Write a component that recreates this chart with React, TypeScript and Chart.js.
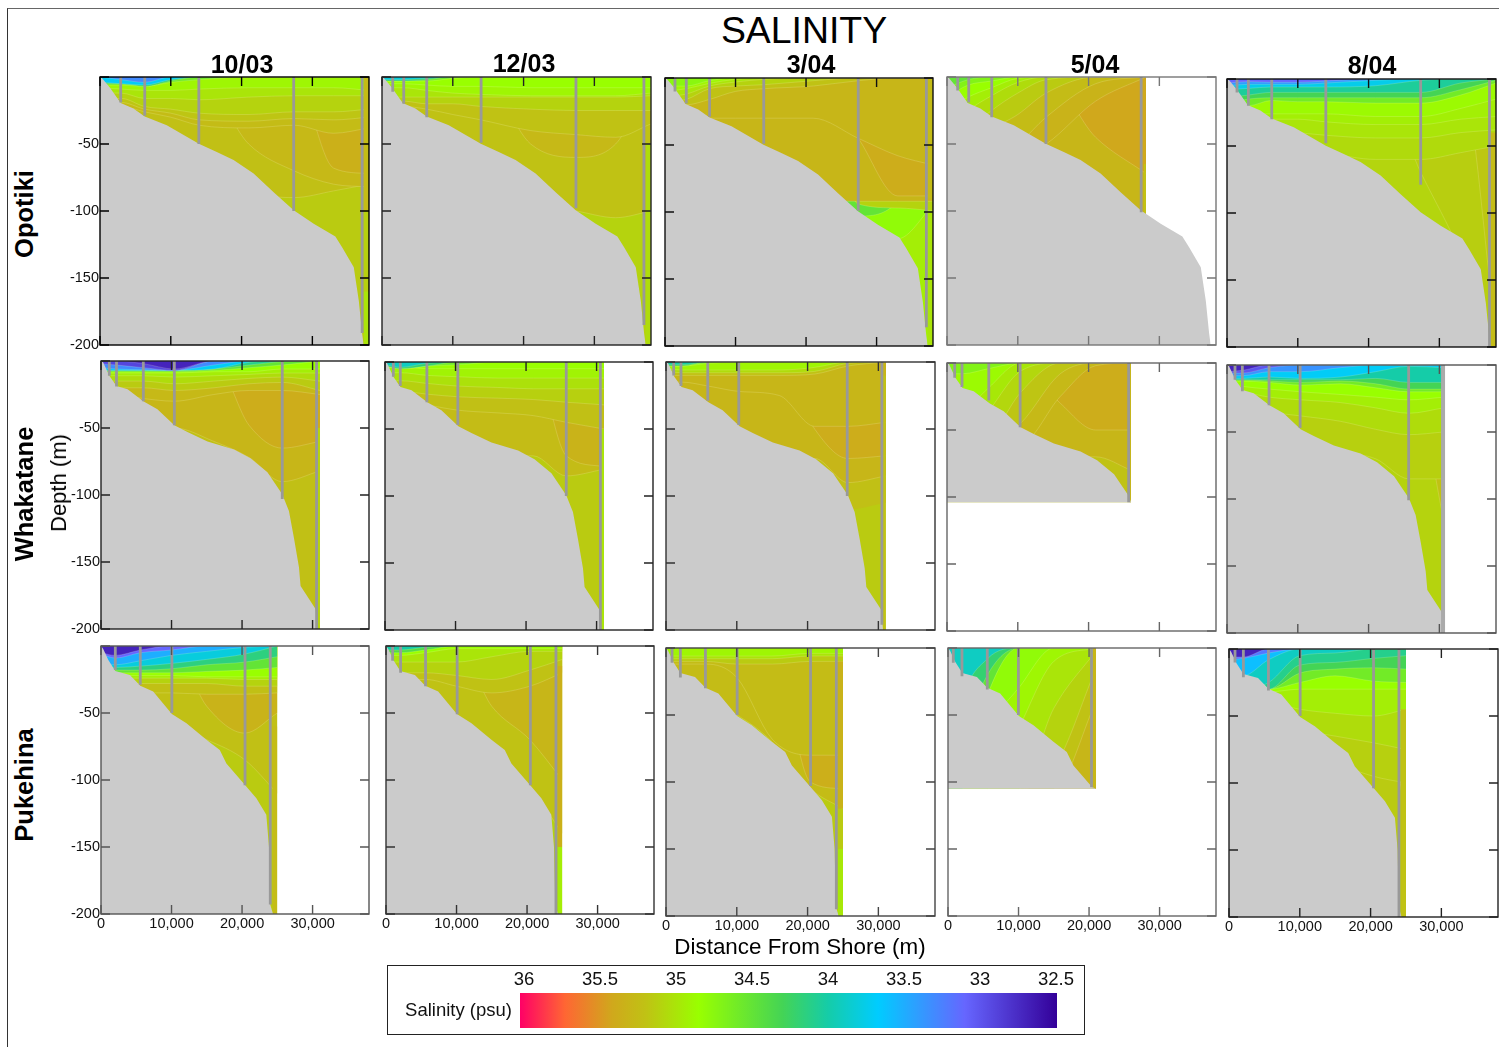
import React, { useEffect, useRef } from 'react';
import { Chart, registerables } from 'chart.js';

Chart.register(...registerables);
Chart.defaults.font.family = '"Liberation Sans", Arial, sans-serif';
Chart.defaults.color = '#111';

// ---------- categories and tick labels ----------
const transects = ['Opotiki', 'Whakatane', 'Pukehina'];
const dates = ['10/03', '12/03', '3/04', '5/04', '8/04'];
const distanceTicks = [0, 10000, 20000, 30000];
const depthTicks = [0, -50, -100, -150, -200];
const legendTicks = [36, 35.5, 35, 34.5, 34, 33.5, 33, 32.5];

// ---------- colour scale of the legend: [salinity, colour] ----------
const salinityStops: [number, string][] = [
  [36.03, '#ff0066'], [35.73, '#ff6633'], [35.42, '#d0a81c'], [35.2, '#c0c214'], [34.85, '#99ff00'],
  [34.3, '#44d455'], [34.0, '#15cca8'], [33.67, '#00ccff'], [33.1, '#6666ff'], [32.49, '#330099'],
];

// ---------- sea floor profiles: [distance, depth] ----------
const floorOpotiki = [[0, 0], [300, 1], [1415, 8], [2925, 19.4], [4717, 23.6], [6320, 29.4], [9434, 36], [13960, 49.8], [16500, 56], [18870, 62], [21700, 72], [24530, 86], [27360, 99.5], [30190, 109.5], [33250, 119], [34200, 127], [35850, 142], [36560, 167], [37030, 191.5], [37250, 200]];
const floorWhakatane = [[0, 0], [300, 1], [1180, 11], [2200, 18.7], [3770, 21], [6000, 30], [8000, 36], [10400, 48], [12260, 53], [15100, 60], [18870, 66], [21200, 72.6], [23600, 83], [25700, 99.5], [26650, 112], [27360, 132], [28070, 154], [28300, 168], [30425, 185], [30660, 200]];
const floorPukehina = [[0, 0], [300, 2], [1040, 10.4], [2030, 18.7], [4100, 21.6], [5570, 29.6], [7400, 34], [10050, 50.7], [12120, 57.7], [14950, 70], [16840, 77.6], [17780, 87.6], [20420, 103.7], [22030, 113.7], [23440, 126], [23820, 150], [24000, 193], [24390, 200]];
const floorWhakataneShort = [[0, 0], [300, 1], [1180, 11], [2200, 18.7], [3770, 21], [6000, 30], [8000, 36], [10400, 48], [12260, 53], [15100, 60], [18870, 66], [21200, 72.6], [23600, 83], [25700, 99.5], [26000, 104]];
const floorPukehinaShort = [[0, 0], [300, 2], [1040, 10.4], [2030, 18.7], [4100, 21.6], [5570, 29.6], [7400, 34], [10050, 50.7], [12120, 57.7], [14950, 70], [16840, 77.6], [17780, 87.6], [20420, 103.7], [21000, 105]];

// ---------- distances at which the isohaline depths were read ----------
const xsOpotiki = [0, 3000, 6300, 10000, 14000, 21000, 27400, 33000, 38000];
const xsOpotikiShort = [0, 3000, 6300, 10000, 14000, 21000, 28100];
const xsWhakatane = [0, 2200, 6000, 10400, 16000, 21000, 25700, 31060];
const xsWhakataneShort = [0, 2200, 6000, 10400, 16000, 21000, 26000];
const xsWhakataneAug = [0, 2200, 6000, 10400, 16000, 21000, 25700, 30600];
const xsPukehina = [0, 2000, 5600, 10000, 15000, 20400, 25000];
const xsPukehinaShort = [0, 2000, 5600, 10000, 15000, 21000];

// ---------- isohalines: [salinity, depth at each distance], painted deep to shallow ----------
const iso1003O = [[35.15, 200, 200, 200, 200, 200, 200, 200, 200, 200], [35.22, 40, 40, 50, 55, 62, 85, 90, 85, 80], [35.28, 0, 0, 0, 0, 0, 50, 70, 80, 82], [35.35, 0, 0, 0, 0, 0, 0, 0, 68, 72], [35.25, 22, 22, 26, 30, 36, 38, 36, 42, 38], [35.18, 19, 19, 24, 27, 32, 33, 31, 32, 30], [35.1, 16, 16, 22, 24, 27, 28, 26, 26, 24], [35.0, 12, 12, 16, 16, 17, 15, 14, 14, 14], [34.9, 8, 9, 10, 10, 9, 8, 8, 8, 10], [34.6, 6, 6, 7, 4, 2, 0, 0, 0, 0], [34.2, 5, 5, 7, 3, 0, 0, 0, 0, 0], [33.7, 4, 5, 6, 2, 0, 0, 0, 0, 0], [33.3, 0, 2, 4, 0, 0, 0, 0, 0, 0]];
const iso1203O = [[35.1, 200, 200, 200, 200, 200, 200, 200, 200, 200], [35.2, 50, 50, 60, 75, 90, 95, 100, 105, 100], [35.28, 0, 0, 0, 0, 0, 50, 60, 50, 0], [35.2, 22, 22, 24, 28, 32, 40, 43, 45, 35], [35.1, 18, 18, 20, 20, 22, 24, 25, 25, 25], [35.0, 15, 15, 15, 15, 15, 15, 15, 15, 14], [34.9, 8, 8, 10, 12, 13, 14, 14, 14, 12], [34.85, 5, 5, 6, 7, 7, 8, 8, 8, 8], [34.6, 3, 3, 3, 1, 0, 0, 0, 0, 0], [34.2, 3, 3, 2, 0, 0, 0, 0, 0, 0], [33.8, 2, 2, 1, 0, 0, 0, 0, 0, 0]];
const iso0304O = [[34.95, 200, 200, 200, 200, 200, 200, 200, 200, 200], [34.8, 0, 0, 0, 0, 0, 100, 115, 120, 95], [34.5, 0, 0, 0, 0, 0, 100, 103, 92, 0], [35.1, 0, 0, 0, 0, 0, 0, 94, 97, 99], [35.3, 92, 92, 92, 92, 92, 92, 92, 92, 92], [35.38, 0, 0, 0, 0, 0, 0, 45, 88, 88], [35.3, 30, 30, 30, 30, 30, 30, 45, 58, 65], [35.2, 20, 20, 16, 10, 8, 6, 2, 0, 0], [35.1, 18, 16, 8, 6, 5, 2, 0, 0, 0], [35.0, 14, 12, 6, 3, 1, 0, 0, 0, 0], [34.9, 10, 8, 4, 1, 0, 0, 0, 0, 0], [34.75, 6, 6, 2, 0, 0, 0, 0, 0, 0]];
const iso0504O = [[35.3, 200, 200, 200, 200, 200, 200, 200], [35.42, 0, 0, 0, 0, 0, 45, 72], [35.33, 60, 60, 60, 60, 50, 18, 0], [35.25, 60, 60, 60, 50, 30, 5, 0], [35.15, 60, 60, 40, 28, 12, 0, 0], [35.05, 60, 40, 25, 12, 2, 0, 0], [34.95, 40, 25, 14, 4, 0, 0, 0], [34.85, 25, 15, 8, 1, 0, 0, 0], [34.7, 15, 6, 3, 0, 0, 0, 0], [34.5, 8, 2, 0, 0, 0, 0, 0]];
const iso0804O = [[35.09, 200, 200, 200, 200, 200, 200, 200, 200, 200], [35.13, 0, 0, 0, 0, 0, 0, 70, 130, 200], [35.17, 0, 0, 0, 0, 0, 0, 0, 0, 190], [35.06, 50, 50, 50, 52, 55, 60, 60, 55, 50], [35.0, 38, 38, 38, 40, 42, 44, 44, 40, 38], [34.94, 30, 30, 30, 30, 32, 34, 34, 30, 28], [34.88, 24, 26, 26, 26, 26, 28, 28, 22, 15], [34.6, 20, 20, 16, 17, 17, 18, 18, 12, 3], [34.3, 18, 15, 14, 14, 14, 14, 14, 8, 1], [34.05, 14, 12, 10, 10, 10, 10, 10, 3, 0], [33.75, 8, 7, 6, 6, 6, 5, 1, 0, 0], [33.4, 5, 4, 4, 4, 3, 1, 0, 0, 0], [33.1, 3, 2, 2.5, 2.5, 1.5, 0, 0, 0, 0]];

const iso1003W = [[35.22, 200, 200, 200, 200, 200, 200, 200, 200], [35.3, 50, 50, 50, 50, 60, 72, 90, 82], [35.38, 0, 0, 0, 0, 0, 48, 65, 60], [35.28, 25, 25, 28, 30, 25, 22, 22, 25], [35.15, 20, 20, 20, 22, 20, 17, 16, 22], [35.05, 15, 15, 15, 17, 15, 13, 12, 15], [34.95, 11, 11, 11, 12, 11, 10, 9, 9], [34.85, 9, 9, 9, 9, 8, 8, 6, 6], [34.5, 8, 8, 8, 8, 7, 5, 3, 0], [34.1, 7, 7, 7, 7, 6, 3, 0.5, 0], [33.7, 7, 7, 7, 7, 6, 1, 0, 0], [33.3, 5, 6, 6.5, 7, 3, 0, 0, 0], [32.9, 2, 3, 5, 7, 0, 0, 0, 0], [32.7, 0, 0, 2, 6, 0, 0, 0, 0]];
const iso1203W = [[35.15, 200, 200, 200, 200, 200, 200, 200, 200], [35.25, 40, 40, 45, 55, 70, 70, 85, 80], [35.33, 0, 0, 0, 0, 0, 0, 70, 78], [35.22, 28, 28, 32, 36, 38, 40, 45, 50], [35.12, 22, 22, 24, 26, 27, 28, 30, 32], [35.02, 14, 14, 16, 18, 19, 20, 20, 20], [34.92, 8, 8, 10, 11, 12, 12, 12, 12], [34.85, 4, 4, 5, 5, 5, 5, 5, 5], [34.6, 3, 5, 3, 2, 0, 0, 0, 0], [34.2, 3, 5, 3, 0, 0, 0, 0, 0], [33.9, 2, 4, 1, 0, 0, 0, 0, 0]];
const iso0304W = [[35.15, 200, 200, 200, 200, 200, 200, 200, 200], [35.22, 100, 100, 100, 100, 100, 100, 110, 105], [35.3, 40, 40, 50, 70, 72, 72, 90, 85], [35.38, 0, 0, 0, 0, 0, 50, 72, 70], [35.3, 15, 15, 18, 22, 25, 48, 48, 45], [35.2, 10, 10, 10, 10, 10, 9, 3, 0], [35.05, 7, 8, 8, 8, 8, 7, 1, 0], [34.9, 5, 6, 6, 6, 6, 4, 0, 0], [34.7, 3, 3, 1, 0, 0, 0, 0, 0], [34.3, 3, 3, 0, 0, 0, 0, 0, 0], [34.0, 2, 2, 0, 0, 0, 0, 0, 0]];
const iso0504W = [[35.2, 104, 104, 104, 104, 104, 104, 104], [35.3, 65, 65, 65, 65, 70, 70, 80], [35.38, 0, 0, 0, 0, 30, 50, 50], [35.28, 60, 60, 60, 60, 25, 2, 0], [35.18, 60, 60, 60, 45, 8, 0, 0], [35.08, 60, 60, 55, 22, 0, 0, 0], [34.98, 60, 60, 35, 6, 0, 0, 0], [34.88, 60, 40, 18, 0, 0, 0, 0], [34.7, 8, 8, 4, 0, 0, 0, 0]];
const iso0804W = [[35.1, 200, 200, 200, 200, 200, 200, 200, 200], [35.2, 0, 0, 0, 0, 0, 0, 0, 115], [35.12, 55, 55, 55, 60, 65, 70, 85, 85], [35.05, 30, 30, 35, 38, 42, 48, 52, 50], [34.95, 18, 20, 24, 26, 28, 32, 36, 32], [34.85, 14, 16, 18, 20, 22, 24, 26, 24], [34.6, 12, 12, 13, 15, 14, 17, 20, 20], [34.3, 11, 11, 12, 13, 12, 14, 18, 18], [34.0, 11, 11, 11, 11, 11, 10, 13, 13], [33.7, 10, 10, 9, 10, 9, 5, 1, 2], [33.35, 8, 8, 5, 5, 2, 0, 0, 0], [33.0, 6, 6, 2, 0, 0, 0, 0, 0], [32.7, 5, 4, 0, 0, 0, 0, 0, 0]];

const iso1003P = [[35.15, 200, 200, 200, 200, 200, 200, 200], [35.22, 60, 60, 60, 60, 70, 85, 110], [35.33, 0, 0, 0, 0, 45, 65, 50], [35.22, 35, 35, 35, 35, 36, 36, 35], [35.1, 28, 28, 28, 28, 28, 30, 30], [34.95, 24, 24, 24, 24, 24, 25, 25], [34.85, 22, 22, 22, 22, 23, 23, 23], [34.5, 20, 20, 20, 20, 19, 18, 16], [34.15, 18, 18, 18, 17, 14, 12, 8], [33.8, 16, 16, 15, 13, 10, 6, 0], [33.5, 14, 14, 11, 7, 4, 1, 0], [33.1, 6, 9, 5, 3, 0, 0, 0], [32.7, 5, 7, 3, 0, 0, 0, 0]];
const iso1203P = [[35.1, 200, 200, 200, 200, 200, 200, 200], [35.2, 70, 70, 70, 70, 80, 105, 140], [35.3, 0, 0, 0, 0, 45, 70, 100], [35.2, 25, 25, 25, 30, 35, 30, 20], [35.1, 20, 20, 20, 22, 25, 18, 10], [35.0, 12, 12, 12, 12, 8, 4, 4], [34.85, 7, 7, 5, 2, 2, 2, 2], [34.4, 5, 5, 3, 0, 0, 0, 0], [34.0, 3, 3, 1, 0, 0, 0, 0]];
const iso0304P = [[35.15, 200, 200, 200, 200, 200, 200, 200], [35.25, 30, 30, 40, 50, 70, 105, 120], [35.36, 0, 0, 0, 0, 0, 100, 105], [35.25, 12, 12, 12, 22, 68, 80, 80], [35.15, 10, 10, 10, 12, 12, 10, 10], [35.0, 8, 8, 8, 8, 8, 6, 6], [34.9, 6, 6, 6, 6, 6, 4, 4]];
const iso0504P = [[35.3, 105, 105, 105, 105, 105, 105], [35.2, 105, 105, 105, 105, 105, 40], [35.1, 105, 105, 105, 105, 90, 15], [35.0, 105, 105, 105, 105, 45, 2], [34.9, 105, 105, 105, 60, 10, 0], [34.8, 105, 105, 60, 30, 0, 0], [34.5, 105, 105, 35, 0, 0, 0], [34.2, 105, 70, 20, 0, 0, 0], [33.9, 100, 40, 8, 0, 0, 0]];
const iso0804P = [[35.15, 200, 200, 200, 200, 200, 200, 200], [35.2, 0, 0, 0, 0, 0, 0, 125], [35.12, 70, 70, 70, 75, 85, 95, 100], [35.05, 50, 50, 50, 60, 65, 70, 75], [34.95, 40, 40, 40, 45, 48, 50, 45], [34.85, 32, 32, 32, 30, 30, 30, 30], [34.6, 30, 30, 30, 25, 20, 24, 25], [34.3, 30, 30, 30, 18, 15, 14, 15], [34.1, 30, 30, 30, 12, 10, 7, 5], [33.9, 30, 30, 25, 5, 3, 0, 0], [33.6, 20, 20, 8, 0, 0, 0, 0], [33.2, 8, 7, 3, 0, 0, 0, 0], [32.7, 6, 6, 0, 0, 0, 0, 0]];

// ---------- outermost columns: [from, to, salinity, top depth, bottom depth] ----------
const edge1003O = [[37250, 38000, 35.25, 0, 100], [37250, 38000, 35.12, 100, 160], [37250, 38000, 35.0, 160, 200]];
const edge1203O = [[37250, 38000, 35.05, 50, 200]];
const edge0304O = [[37250, 38000, 35.25, 0, 90], [37250, 38000, 35.0, 100, 200]];
const edge0504O = [[27800, 28100, 35.2, 65, 104]];
const edge0804O = [[37250, 38000, 35.25, 40, 200]];
const edge1003W = [[30660, 31060, 35.1, 50, 200]];
const edge1203W = [[30660, 31060, 35.0, 50, 200]];
const edge0304W = [[30660, 31060, 35.2, 10, 200]];
const edge0504W = [[25800, 26000, 35.3, 0, 104]];
const edge0804W: number[][] = [];
const edge1003P = [[24300, 25000, 35.25, 60, 200]];
const edge1203P = [[24300, 25000, 35.35, 15, 150], [24300, 25000, 34.95, 150, 200]];
const edge0304P = [[24300, 25000, 35.33, 10, 120], [24300, 25000, 35.15, 120, 150], [24300, 25000, 34.98, 150, 200]];
const edge0504P = [[20500, 21000, 35.3, 0, 105]];
const edge0804P = [[24300, 25000, 35.2, 45, 200]];

// ---------- CTD casts ----------
const cast1003OX = [2925, 6320, 13960, 27360, 37030];
const cast1003OD = [19, 29, 50, 100, 191];
const cast1203OX = [1514, 3070, 6320, 14000, 27400, 37000];
const cast1203OD = [11, 20, 30, 49, 98, 185];
const cast0304OX = [1415, 3020, 6320, 14000, 27400, 37060];
const cast0304OD = [10, 19, 29, 49, 99, 186];
const cast0504OX = [1510, 3066, 6320, 13980, 27430];
const cast0504OD = [10, 19, 30, 50, 101];
const cast0804OX = [1415, 3020, 6320, 13960, 27360, 37080];
const cast0804OD = [10, 20, 30, 48, 79, 200];
const cast1003WX = [1180, 2200, 6000, 10400, 25700, 30570];
const cast1003WD = [11, 19, 30, 48, 103, 200];
const cast1203WX = [1180, 2170, 5940, 10330, 25700, 30540];
const cast1203WD = [11, 18, 30, 47, 100, 200];
const cast0304WX = [1085, 2120, 5900, 10280, 25600, 30500];
const cast0304WD = [10, 18, 29, 47, 100, 196];
const cast0504WX = [1085, 2120, 5900, 10330, 25660];
const cast0504WD = [11, 18, 28, 48, 104];
const cast0804WX = [1130, 2170, 5940, 10330, 25660, 30520];
const cast0804WD = [11, 19.5, 30, 47, 101, 200];
const cast1003PX = [2030, 5570, 10050, 20420, 24000];
const cast1003PD = [18, 29, 50, 104, 193];
const cast1203PX = [940, 2070, 5610, 10090, 20470, 24100];
const cast1203PD = [11, 20, 30, 51, 104, 200];
const cast0304PX = [850, 2030, 5570, 10050, 20420, 24060];
const cast0304PD = [11, 22, 30, 50, 103, 195];
const cast0504PX = [750, 1980, 5570, 9980, 20350];
const cast0504PD = [11, 21, 31, 50, 104];
const cast0804PX = [850, 2030, 5570, 10050, 20420, 24010];
const cast0804PD = [10, 21, 31, 50, 104, 200];

// panel contents, row by row
const panelData = [
  { xs: xsOpotiki, iso: iso1003O, edge: edge1003O, floor: floorOpotiki, floorEnd: 200, cx: cast1003OX, cd: cast1003OD },
  { xs: xsOpotiki, iso: iso1203O, edge: edge1203O, floor: floorOpotiki, floorEnd: 200, cx: cast1203OX, cd: cast1203OD },
  { xs: xsOpotiki, iso: iso0304O, edge: edge0304O, floor: floorOpotiki, floorEnd: 200, cx: cast0304OX, cd: cast0304OD },
  { xs: xsOpotikiShort, iso: iso0504O, edge: edge0504O, floor: floorOpotiki, floorEnd: 200, cx: cast0504OX, cd: cast0504OD },
  { xs: xsOpotiki, iso: iso0804O, edge: edge0804O, floor: floorOpotiki, floorEnd: 200, cx: cast0804OX, cd: cast0804OD },
  { xs: xsWhakatane, iso: iso1003W, edge: edge1003W, floor: floorWhakatane, floorEnd: 200, cx: cast1003WX, cd: cast1003WD },
  { xs: xsWhakatane, iso: iso1203W, edge: edge1203W, floor: floorWhakatane, floorEnd: 200, cx: cast1203WX, cd: cast1203WD },
  { xs: xsWhakatane, iso: iso0304W, edge: edge0304W, floor: floorWhakatane, floorEnd: 200, cx: cast0304WX, cd: cast0304WD },
  { xs: xsWhakataneShort, iso: iso0504W, edge: edge0504W, floor: floorWhakataneShort, floorEnd: 104, cx: cast0504WX, cd: cast0504WD },
  { xs: xsWhakataneAug, iso: iso0804W, edge: edge0804W, floor: floorWhakatane, floorEnd: 200, cx: cast0804WX, cd: cast0804WD },
  { xs: xsPukehina, iso: iso1003P, edge: edge1003P, floor: floorPukehina, floorEnd: 200, cx: cast1003PX, cd: cast1003PD },
  { xs: xsPukehina, iso: iso1203P, edge: edge1203P, floor: floorPukehina, floorEnd: 200, cx: cast1203PX, cd: cast1203PD },
  { xs: xsPukehina, iso: iso0304P, edge: edge0304P, floor: floorPukehina, floorEnd: 200, cx: cast0304PX, cd: cast0304PD },
  { xs: xsPukehinaShort, iso: iso0504P, edge: edge0504P, floor: floorPukehinaShort, floorEnd: 105, cx: cast0504PX, cd: cast0504PD },
  { xs: xsPukehina, iso: iso0804P, edge: edge0804P, floor: floorPukehina, floorEnd: 200, cx: cast0804PX, cd: cast0804PD },
];

// ---------- layout (pixels): left, top, width, height, frame colour ----------
const boxes: [number, number, number, number, string][] = [
  [100, 76.5, 268.5, 267.5, '#000'], [382, 77, 268.5, 268, '#222'], [664.5, 77.5, 268, 267.5, '#111'], [946.5, 77, 269, 268, '#777'], [1226.5, 78.5, 268.5, 268, '#111'],
  [100.5, 360.5, 268, 267.5, '#222'], [384.5, 361.5, 268, 267.5, '#222'], [665.5, 362, 268.5, 267.5, '#333'], [947, 363, 268.5, 268, '#666'], [1227, 364.5, 268.5, 268, '#555'],
  [101, 645.5, 268, 267.5, '#555'], [386, 646, 268, 268, '#333'], [666, 647.5, 268.5, 267.5, '#444'], [947.5, 648, 268, 268, '#666'], [1229, 648.5, 268.5, 267.5, '#222'],
];
const MARGIN_L = 45, MARGIN_T = 4, MARGIN_R = 6, MARGIN_B = 26;
const dateCentres: [number, number][] = [[242, 64], [524, 63], [811, 64], [1095, 64], [1372, 65]];
const rowCentres = [214, 494, 785];

function hex(c: string) {
  return [1, 3, 5].map((i) => parseInt(c.slice(i, i + 2), 16));
}
function salinityColor(s: number) {
  for (let i = 0; i < salinityStops.length - 1; i++) {
    const [s0, c0] = salinityStops[i];
    const [s1, c1] = salinityStops[i + 1];
    if (s <= s0 && s >= s1) {
      const t = (s0 - s) / (s0 - s1);
      const a = hex(c0), b = hex(c1);
      return `rgb(${a.map((v, k) => Math.round(v + (b[k] - v) * t)).join(',')})`;
    }
  }
  return salinityStops[salinityStops.length - 1][1];
}

const frameTicks = {
  id: 'frameTicks',
  afterDatasetsDraw(chart: any, _a: any, opts: any) {
    const { ctx, chartArea: a, scales } = chart;
    ctx.save();
    ctx.strokeStyle = opts.color;
    ctx.lineWidth = 1.4;
    ctx.strokeRect(a.left, a.top, a.right - a.left, a.bottom - a.top);
    ctx.beginPath();
    for (const t of scales.x.ticks) {
      const p = scales.x.getPixelForValue(t.value);
      ctx.moveTo(p, a.top); ctx.lineTo(p, a.top + 9);
      ctx.moveTo(p, a.bottom); ctx.lineTo(p, a.bottom - 9);
    }
    for (const t of scales.y.ticks) {
      const p = scales.y.getPixelForValue(t.value);
      ctx.moveTo(a.left, p); ctx.lineTo(a.left + 9, p);
      ctx.moveTo(a.right, p); ctx.lineTo(a.right - 9, p);
    }
    ctx.stroke();
    ctx.restore();
  },
};

function buildDatasets(d: (typeof panelData)[number], wideLast: boolean) {
  const base = { pointRadius: 0, tension: 0, borderWidth: 0 };
  const list: any[] = [];
  d.iso.forEach((row) => {
    const col = salinityColor(row[0]);
    list.push({
      pointRadius: 0,
      cubicInterpolationMode: 'monotone',
      data: d.xs.map((x, i) => ({ x, y: -row[i + 1] })),
      fill: 'end',
      backgroundColor: col,
      borderColor: 'rgba(255,255,210,0.3)',
      borderWidth: row[1] >= 100 && row[row.length - 1] >= 100 ? 0 : 0.6,
    });
  });
  d.edge.forEach(([x0, x1, s, top, bottom]) => {
    list.push({
      ...base,
      data: [{ x: x0, y: -top }, { x: x1, y: -top }],
      fill: { value: -bottom },
      backgroundColor: salinityColor(s),
      borderColor: 'transparent',
    });
  });
  list.push({
    ...base,
    data: d.floor.map(([x, depth]) => ({ x, y: -depth })),
    fill: { value: -d.floorEnd },
    backgroundColor: '#cbcbcb',
    borderColor: 'transparent',
  });
  d.cx.forEach((x, i) => {
    const wide = wideLast && i === d.cx.length - 1;
    list.push({
      pointRadius: 0,
      data: [{ x, y: 0 }, { x, y: -d.cd[i] }],
      fill: false,
      borderColor: wide ? '#aaaaaa' : '#999999',
      borderWidth: wide ? 4 : 2.8,
    });
  });
  return list.reverse();
}

function Panel({ index }: { index: number }) {
  const ref = useRef<HTMLCanvasElement>(null);
  const [l, t, w, h, frame] = boxes[index];
  const col = index % 5;
  const row = Math.floor(index / 5);
  useEffect(() => {
    const chart = new Chart(ref.current as HTMLCanvasElement, {
      type: 'line',
      data: { datasets: buildDatasets(panelData[index], index === 9) },
      plugins: [frameTicks],
      options: {
        animation: false,
        responsive: false,
        events: [],
        layout: { padding: { left: 0, top: MARGIN_T, right: MARGIN_R, bottom: 0 } },
        plugins: { legend: { display: false }, title: { display: false }, tooltip: { enabled: false }, frameTicks: { color: frame } } as any,
        scales: {
          x: {
            type: 'linear', min: 0, max: 38000,
            grid: { display: false, drawTicks: false }, border: { display: false },
            afterBuildTicks: (s: any) => { s.ticks = distanceTicks.map((value) => ({ value })); },
            afterFit: (s: any) => { s.height = MARGIN_B; s.paddingLeft = 0; s.paddingRight = 0; },
            ticks: {
              display: row === 2, autoSkip: false, maxRotation: 0, padding: 1, color: '#111',
              font: { size: 14.5 },
              callback: (v: any) => Number(v).toLocaleString('en-US'),
            },
          },
          y: {
            type: 'linear', min: -200, max: 0,
            grid: { display: false, drawTicks: false }, border: { display: false },
            afterBuildTicks: (s: any) => { s.ticks = depthTicks.map((value) => ({ value })); },
            afterFit: (s: any) => { s.width = MARGIN_L; s.paddingTop = 0; s.paddingBottom = 0; },
            ticks: {
              display: col === 0, padding: 1, color: '#111',
              font: { size: 14.5 },
              callback: (v: any) => (v === 0 ? '' : String(v)),
            },
          },
        },
      } as any,
    });
    return () => chart.destroy();
  }, [index]);
  return (
    <canvas
      ref={ref}
      width={Math.round(w + MARGIN_L + MARGIN_R)}
      height={Math.round(h + MARGIN_T + MARGIN_B)}
      style={{ position: 'absolute', left: l - MARGIN_L, top: t - MARGIN_T }}
    />
  );
}

function SalinityLegend() {
  const ref = useRef<HTMLCanvasElement>(null);
  useEffect(() => {
    const hi = 36.026, lo = 32.493;
    const chart = new Chart(ref.current as HTMLCanvasElement, {
      type: 'bar',
      data: {
        labels: ['Salinity (psu)'],
        datasets: [{
          data: [[lo, hi]],
          barThickness: 35,
          borderWidth: 0,
          backgroundColor: (c: any) => {
            const x = c.chart.scales.x;
            const a = x ? x.getPixelForValue(hi) : NaN;
            const b = x ? x.getPixelForValue(lo) : NaN;
            if (!Number.isFinite(a) || !Number.isFinite(b)) return '#888888';
            const g = c.chart.ctx.createLinearGradient(a, 0, b, 0);
            salinityStops.forEach(([s, col]) => g.addColorStop(Math.min(1, Math.max(0, (hi - s) / (hi - lo))), col));
            return g;
          },
        }],
      } as any,
      options: {
        animation: false,
        responsive: false,
        events: [],
        indexAxis: 'y',
        layout: { padding: { left: 0, top: 0, right: 27, bottom: 6 } },
        plugins: { legend: { display: false }, tooltip: { enabled: false } },
        scales: {
          x: {
            type: 'linear', position: 'top', reverse: true, min: lo, max: hi,
            grid: { display: false, drawTicks: false }, border: { display: false },
            afterBuildTicks: (s: any) => { s.ticks = legendTicks.map((value) => ({ value })); },
            afterFit: (s: any) => { s.height = 28; s.paddingLeft = 0; s.paddingRight = 0; },
            ticks: { autoSkip: false, maxRotation: 0, padding: 2, color: '#111', font: { size: 18.5 }, callback: (v: any) => String(v) },
          },
          y: {
            grid: { display: false, drawTicks: false }, border: { display: false },
            afterFit: (s: any) => { s.width = 133; s.paddingTop = 0; s.paddingBottom = 0; },
            ticks: { padding: 8, color: '#111', font: { size: 18.5 } },
          },
        },
      } as any,
    });
    return () => chart.destroy();
  }, []);
  return <canvas ref={ref} width={697} height={69} style={{ position: 'absolute', left: 387, top: 965 }} />;
}

const font = '"Liberation Sans", Arial, sans-serif';
function Label({ x, y, size, bold, rotate, children }: any) {
  return (
    <div
      style={{
        position: 'absolute', left: x, top: y, whiteSpace: 'nowrap', fontFamily: font, fontSize: size,
        fontWeight: bold ? 700 : 400, color: '#000', lineHeight: 1,
        transform: `translate(-50%,-50%)${rotate ? ' rotate(-90deg)' : ''}`,
      }}
    >
      {children}
    </div>
  );
}

export default function App() {
  return (
    <div style={{ position: 'absolute', left: 0, top: 0, width: 1499, height: 1047, overflow: 'hidden', background: '#fff' }}>
      <div style={{ position: 'absolute', left: 7, top: 8, width: 1492, height: 1039, borderTop: '1.5px solid #666', borderLeft: '1.5px solid #333' }} />
      {boxes.map((_, i) => <Panel key={i} index={i} />)}
      <Label x={804} y={31} size={37.4}>SALINITY</Label>
      {dates.map((d, i) => <Label key={d} x={dateCentres[i][0]} y={dateCentres[i][1]} size={25} bold>{d}</Label>)}
      {transects.map((d, i) => <Label key={d} x={25} y={rowCentres[i]} size={25.5} bold rotate>{d}</Label>)}
      <Label x={59} y={483} size={22} rotate>Depth (m)</Label>
      <Label x={800} y={947} size={22.4}>Distance From Shore (m)</Label>
      <div style={{ position: 'absolute', left: 387, top: 965, width: 696, height: 68, border: '1px solid #222', boxSizing: 'content-box' }} />
      <SalinityLegend />
    </div>
  );
}
